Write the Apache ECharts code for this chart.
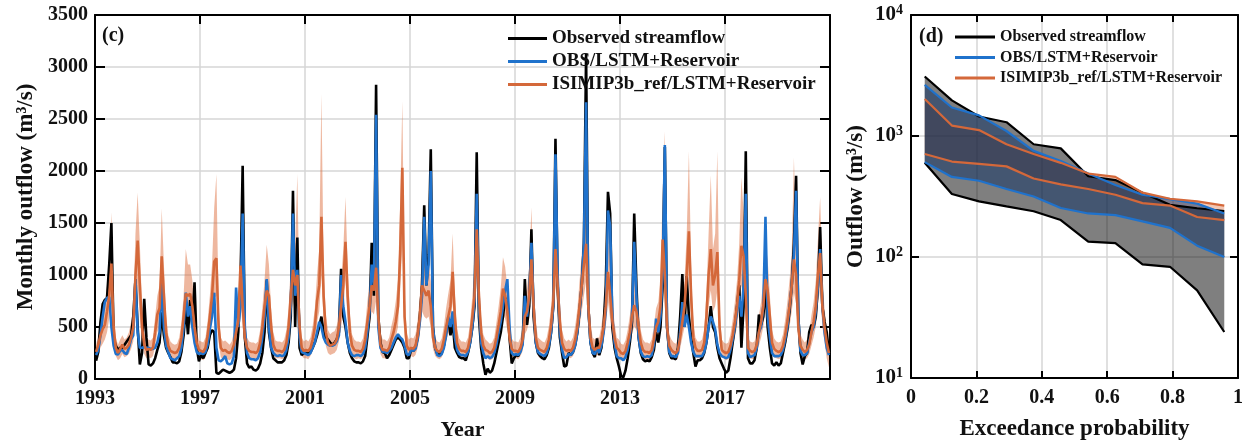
<!DOCTYPE html>
<html><head><meta charset="utf-8">
<script src="https://cdn.jsdelivr.net/npm/echarts@6/dist/echarts.min.js"></script>
<style>html,body{margin:0;padding:0;background:#fff}#c{width:1246px;height:446px}</style>
</head><body><div id="c"></div>
<script>
// ---------- DATA (panel c: monthly 1993-2020) ----------
const startYear = 1993;
const yearTickLabels = ['1993','1997','2001','2005','2009','2013','2017'];
const seriesNames = ['Observed streamflow','OBS/LSTM+Reservoir','ISIMIP3b_ref/LSTM+Reservoir'];

const observed = [
175,260,550,720,760,780,1100,1500,400,320,280,300,
300,330,360,390,420,600,960,500,140,250,770,400,
140,130,150,200,280,350,640,420,300,250,210,160,
160,150,170,260,420,700,430,760,500,930,300,170,
230,200,250,300,420,470,450,60,50,70,90,80,
70,60,70,90,200,450,900,2050,400,150,110,120,
90,80,100,150,250,450,950,450,300,200,180,160,
160,160,180,230,350,600,1810,500,1360,300,230,250,
250,240,260,300,350,420,500,600,450,400,380,350,
330,350,380,450,1060,600,500,350,250,200,170,160,
160,150,170,220,400,600,1310,800,2830,600,350,260,
250,200,230,280,330,380,400,380,350,300,200,200,
280,270,300,400,600,900,1670,900,1200,2210,500,300,
240,230,250,320,450,580,420,550,300,250,210,200,
200,180,250,350,500,700,2180,600,300,150,40,100,
60,80,150,250,350,450,600,780,750,400,150,200,
230,220,280,350,960,520,700,1440,600,350,250,220,
200,190,230,300,450,700,2310,900,400,250,120,130,
250,230,260,330,450,650,900,1300,3130,700,350,250,
210,390,230,300,500,900,1800,1590,500,300,200,120,
30,15,80,200,350,550,1590,900,400,250,190,170,
180,170,210,280,450,350,500,900,2230,500,250,200,
200,190,300,600,1010,500,990,600,400,250,120,180,
180,200,250,350,500,700,500,450,300,200,150,100,
60,80,200,350,500,700,900,300,700,2190,200,150,
150,180,300,620,520,600,900,500,300,150,130,160,
130,150,250,350,480,650,900,1300,1955,600,250,140,
220,250,450,520,500,600,900,1460,700,550,450,250
];

const obsLstm = [
230,280,420,600,740,780,790,500,320,240,235,270,
280,250,240,300,380,420,960,450,300,300,310,300,
300,290,290,300,350,450,930,500,320,260,200,190,
180,200,220,300,500,830,600,700,500,350,260,240,
250,240,260,330,480,600,830,300,180,170,190,220,
150,140,150,220,880,500,700,1590,500,250,200,190,
190,180,200,260,400,600,960,500,300,250,230,220,
230,220,230,280,400,700,1590,800,1050,400,260,250,
240,230,250,300,350,450,550,500,400,350,330,320,
320,330,360,420,1000,700,550,350,270,230,220,230,
230,220,240,300,450,650,1100,900,2540,500,300,260,
260,250,270,300,350,400,430,400,380,320,240,230,
280,270,290,380,550,800,1560,900,1100,2000,500,300,
230,220,240,300,420,600,500,650,400,280,240,230,
230,220,260,350,500,750,1780,700,350,250,200,220,
200,210,250,330,450,550,700,850,960,500,250,230,
240,230,260,330,800,600,800,1310,700,350,260,240,
230,220,250,320,450,700,2160,1000,450,280,200,210,
240,230,260,320,450,650,900,1300,2660,700,350,250,
240,300,250,320,450,650,1620,1470,600,350,220,200,
200,180,210,280,400,600,1320,800,400,260,220,210,
220,210,230,330,580,450,600,1000,2250,500,260,220,
220,210,250,450,740,500,620,500,350,260,220,220,
220,220,260,350,500,600,550,480,330,250,220,210,
200,210,280,380,500,650,800,600,900,1780,250,210,
220,230,300,450,500,700,1560,600,400,250,220,220,
220,230,280,380,500,700,900,1200,1810,600,270,230,
230,250,350,450,500,650,900,1250,700,450,300,230
];

const isimip = [
260,330,420,480,520,650,800,1110,500,300,250,290,
330,290,300,330,400,500,1000,1330,900,500,330,280,
290,280,300,450,620,680,1180,800,450,320,270,260,
250,260,300,400,600,820,800,820,700,500,350,280,
270,260,300,420,600,800,1130,1160,500,300,270,280,
260,250,270,330,450,560,1090,700,400,300,270,260,
260,250,270,350,500,700,850,800,500,330,280,270,
270,260,280,350,500,800,1050,900,1000,500,300,270,
280,270,300,380,500,750,900,1560,800,450,350,320,
330,340,380,500,700,900,1320,800,450,320,280,270,
270,260,290,380,550,700,900,850,1070,600,330,280,
280,270,300,380,450,550,700,1200,2030,600,320,280,
300,290,320,420,600,900,850,800,850,700,400,300,
270,260,290,380,500,600,700,1030,600,350,290,270,
270,260,300,400,600,800,1440,800,450,320,280,270,
250,260,300,400,520,650,870,800,650,400,290,270,
270,260,300,380,600,650,800,1150,700,400,300,280,
270,260,300,380,520,750,1250,900,550,350,290,270,
280,270,300,380,500,700,900,1100,1300,700,400,300,
280,300,300,380,500,700,1030,800,560,400,300,280,
250,240,270,350,450,600,710,650,500,350,280,260,
260,250,280,380,500,550,700,1340,1000,500,320,280,
260,250,280,400,550,700,1000,1420,800,400,300,270,
270,280,350,600,1000,1250,900,1000,1220,500,280,260,
250,260,320,420,550,700,950,1280,1180,800,300,270,
260,270,330,450,550,700,960,850,600,350,290,270,
260,270,320,420,550,700,900,1150,1000,500,320,280,
260,280,330,450,550,700,1000,1210,700,500,350,250
];

const isimipLow = [
190,240,300,340,380,450,580,740,350,220,180,200,
240,210,220,240,290,360,700,900,600,350,240,200,
210,200,220,320,450,500,850,560,320,230,190,190,
180,190,220,290,430,600,580,600,500,360,250,200,
190,180,210,300,420,580,780,800,350,210,190,200,
190,180,200,240,330,400,750,500,280,210,190,190,
190,180,200,250,360,500,600,560,350,240,200,200,
200,190,200,250,360,580,750,650,700,360,220,200,
200,190,220,270,360,540,650,1000,560,320,250,230,
240,250,280,360,500,650,950,560,320,230,200,190,
200,190,210,270,400,500,650,620,750,430,240,200,
200,190,220,270,320,400,500,850,1300,420,230,200,
220,210,230,300,430,650,600,580,600,500,290,220,
200,190,210,270,360,430,500,740,430,250,210,200,
200,190,220,290,430,580,1000,570,320,230,200,200,
180,190,220,290,380,470,630,580,470,290,210,200,
200,190,220,270,430,470,580,830,500,290,220,200,
200,190,220,270,380,540,900,650,400,250,210,200,
210,200,220,270,360,500,650,800,940,500,290,220,
210,230,220,270,360,500,740,580,400,290,220,210,
180,170,200,250,320,430,510,470,360,250,200,190,
190,180,200,270,360,400,500,950,700,360,230,200,
190,180,200,290,400,500,700,1000,560,290,210,200,
200,210,250,430,700,850,650,700,850,360,210,200,
180,190,230,300,400,500,680,900,820,560,220,200,
190,200,240,320,400,500,690,610,430,250,210,200,
190,200,230,300,400,500,650,830,720,360,230,200,
190,200,240,320,400,500,720,870,500,360,200,110
];

const isimipHigh = [
330,420,560,650,720,900,1100,1600,700,400,330,380,
420,380,400,450,550,700,1400,1790,1300,700,450,370,
380,370,400,600,800,900,1640,1100,620,420,360,340,
330,340,400,540,800,1250,1100,1100,950,680,460,370,
360,350,400,560,800,1100,1650,1970,700,400,360,370,
350,330,360,450,600,750,1350,950,550,400,360,350,
350,340,360,470,680,950,1290,1100,680,450,370,360,
360,350,380,470,680,1100,1500,1300,1970,700,400,360,
380,360,400,510,680,1000,1250,2740,1100,620,470,430,
450,460,510,670,950,1250,1750,1100,620,430,380,360,
360,350,390,510,740,950,1250,1150,1450,820,450,380,
380,360,400,510,600,750,950,1700,2670,850,440,380,
400,390,430,570,800,1250,1150,1100,1150,950,540,400,
360,350,390,510,680,820,950,1400,820,480,390,360,
360,350,400,540,800,1080,1900,1080,600,430,380,360,
340,350,400,540,700,880,1170,1080,880,540,390,360,
360,350,400,510,800,870,1080,1650,950,540,400,380,
360,350,400,510,700,1000,1680,1200,740,470,390,360,
380,360,400,510,670,940,1200,1480,1750,940,540,400,
380,400,400,510,680,950,1400,1080,760,540,400,380,
340,330,370,470,610,810,1030,880,680,470,380,350,
350,340,380,510,680,740,950,1800,2380,680,430,380,
350,340,380,540,740,950,1400,2190,1100,540,400,360,
360,380,470,820,1400,1960,1250,1400,2190,680,380,350,
340,350,430,570,740,950,1300,1940,1600,1080,400,360,
350,360,450,610,740,950,1300,1150,810,470,390,360,
350,360,430,570,740,950,1220,2130,1350,680,430,380,
350,380,450,610,740,950,1350,1750,950,680,480,350
];

// ---------- DATA (panel d: exceedance ranges) ----------
const exceedProb = [0.042,0.125,0.208,0.292,0.375,0.458,0.542,0.625,0.708,0.792,0.875,0.958];
const obsHigh  = [3100,1970,1450,1300,855,790,465,432,340,270,253,240];
const obsLow   = [600,332,288,262,239,202,134,130,87,83,53,24];
const lstmHigh = [2650,1720,1480,1100,755,620,489,394,327,301,276,229];
const lstmLow  = [608,459,427,365,316,254,229,222,197,174,124,100];
const isiHigh  = [2020,1220,1120,855,710,600,489,459,340,303,288,266];
const isiLow   = [710,615,589,561,445,398,365,327,279,266,214,202];

// ---------- CHART ----------
const FONT = 'Liberation Serif';
const TXT = '#111';
const BLACK = '#000000', BLUE = '#1f72cc', ORANGE = '#d4683a';
const monthX = i => (i + 0.5) / 12;
const monthXY = arr => arr.map((v, i) => [monthX(i), v]);
const probXY = arr => arr.map((v, i) => [exceedProb[i], v]);

const axLine = {show: true, onZero: false, lineStyle: {color: '#000', width: 2}};
const tick = len => ({show: true, inside: true, length: len, lineStyle: {color: '#000', width: 2}});
const grid = {show: true, lineStyle: {color: '#d6d6d6', width: 1.5}};
const lab = size => ({fontFamily: FONT, fontWeight: 'bold', fontSize: size, color: TXT});

// band polygon drawn through the axes' own scales (api.coord)
function bandSeries(xs, lo, hi, xAxisIndex, yAxisIndex, fill, z) {
  return {
    type: 'custom', xAxisIndex, yAxisIndex, silent: true, z, clip: true,
    data: [[xs[0], lo[0]]],
    renderItem: (params, api) => {
      const pts = [];
      for (let i = 0; i < xs.length; i++) pts.push(api.coord([xs[i], hi[i]]));
      for (let i = xs.length - 1; i >= 0; i--) pts.push(api.coord([xs[i], lo[i]]));
      return {type: 'polygon', shape: {points: pts}, style: {fill: fill, stroke: null}};
    }
  };
}
const monthXs = observed.map((v, i) => monthX(i));

const chart = echarts.init(document.getElementById('c'), null, {renderer: 'canvas'});

const option = {
  animation: false,
  backgroundColor: '#fff',
  grid: [
    {left: 95, right: 416, top: 15, bottom: 61},
    {left: 911, right: 8, top: 15, bottom: 61}
  ],
  xAxis: [
    {type: 'value', gridIndex: 0, min: 0, max: 28, interval: 4, position: 'bottom',
     axisLine: axLine, axisTick: tick(9), splitLine: grid,
     axisLabel: Object.assign(lab(20), {margin: 10, formatter: v => yearTickLabels[Math.round(v / 4)] || ''}),
     name: 'Year', nameLocation: 'middle', nameGap: 40, nameTextStyle: lab(22)},
    {type: 'value', gridIndex: 0, min: 0, max: 28, interval: 4, position: 'top',
     axisLine: axLine, axisTick: tick(9), splitLine: {show: false}, axisLabel: {show: false}},
    {type: 'value', gridIndex: 1, min: 0, max: 1, interval: 0.2, position: 'bottom',
     axisLine: axLine, axisTick: tick(7), splitLine: grid,
     axisLabel: Object.assign(lab(20), {margin: 10}),
     name: 'Exceedance probability', nameLocation: 'middle', nameGap: 40, nameTextStyle: lab(23)},
    {type: 'value', gridIndex: 1, min: 0, max: 1, interval: 0.2, position: 'top',
     axisLine: axLine, axisTick: tick(7), splitLine: {show: false}, axisLabel: {show: false}}
  ],
  yAxis: [
    {type: 'value', gridIndex: 0, min: 0, max: 3500, interval: 500, position: 'left',
     axisLine: axLine, axisTick: tick(10), splitLine: grid,
     axisLabel: Object.assign(lab(20), {margin: 7, formatter: v => String(v)}),
     name: 'Monthly outflow (m³/s)', nameLocation: 'middle', nameGap: 55, nameRotate: 90, nameTextStyle: lab(23)},
    {type: 'value', gridIndex: 0, min: 0, max: 3500, interval: 500, position: 'right',
     axisLine: axLine, axisTick: tick(10), splitLine: {show: false}, axisLabel: {show: false}},
    {type: 'log', gridIndex: 1, min: 10, max: 10000, logBase: 10, splitNumber: 3, position: 'left',
     axisLine: axLine, axisTick: tick(8), splitLine: grid, minorTick: {show: false},
     axisLabel: {margin: 8, formatter: v => '{b|10}{s|' + Math.round(Math.log10(v)) + '}',
       rich: {b: Object.assign(lab(21), {lineHeight: 24}),
              s: Object.assign(lab(14), {verticalAlign: 'top', lineHeight: 14})}},
     name: 'Outflow (m³/s)', nameLocation: 'middle', nameGap: 43, nameRotate: 90, nameTextStyle: lab(23)},
    {type: 'log', gridIndex: 1, min: 10, max: 10000, logBase: 10, splitNumber: 3, position: 'right',
     axisLine: axLine, axisTick: tick(8), splitLine: {show: false}, axisLabel: {show: false}}
  ],
  legend: [
    {data: seriesNames, orient: 'vertical', left: 508, top: 29, padding: 0, itemWidth: 39, itemHeight: 3, itemGap: 4,
     icon: 'rect', selectedMode: false, textStyle: lab(19)},
    {data: seriesNames, orient: 'vertical', left: 955, top: 29, padding: 0, itemWidth: 40, itemHeight: 3, itemGap: 4.5,
     icon: 'rect', selectedMode: false, textStyle: lab(16)}
  ],
  graphic: [
    {type: 'text', left: 102, top: 26, style: {text: '(c)', font: 'bold 20px "Liberation Serif"', fill: TXT}},
    {type: 'text', left: 919, top: 27, style: {text: '(d)', font: 'bold 20px "Liberation Serif"', fill: TXT}}
  ],
  series: [
    // ---- panel c ----
    bandSeries(monthXs, isimipLow, isimipHigh, 0, 0, 'rgba(220,105,55,0.48)', 1),
    {type: 'line', name: seriesNames[0], xAxisIndex: 0, yAxisIndex: 0, data: monthXY(observed), color: BLACK,
     symbol: 'none', showSymbol: false, lineStyle: {color: BLACK, width: 2.6}, z: 2},
    {type: 'line', name: seriesNames[1], xAxisIndex: 0, yAxisIndex: 0, data: monthXY(obsLstm), color: BLUE,
     symbol: 'none', showSymbol: false, lineStyle: {color: BLUE, width: 2.6}, z: 3},
    {type: 'line', name: seriesNames[2], xAxisIndex: 0, yAxisIndex: 0, data: monthXY(isimip), color: ORANGE,
     symbol: 'none', showSymbol: false, lineStyle: {color: ORANGE, width: 2.6}, z: 4},
    // ---- panel d : bands ----
    bandSeries(exceedProb, isiLow, isiHigh, 2, 2, 'rgba(217,83,25,0.33)', 1),
    bandSeries(exceedProb, obsLow, obsHigh, 2, 2, 'rgba(0,0,0,0.5)', 2),
    bandSeries(exceedProb, lstmLow, lstmHigh, 2, 2, 'rgba(10,45,100,0.5)', 3),
    // ---- panel d : lines ----
    {type: 'line', name: seriesNames[0], xAxisIndex: 2, yAxisIndex: 2, data: probXY(obsHigh), color: BLACK,
     symbol: 'none', lineStyle: {color: BLACK, width: 2.2}, z: 5},
    {type: 'line', name: seriesNames[0], xAxisIndex: 2, yAxisIndex: 2, data: probXY(obsLow), color: BLACK,
     symbol: 'none', lineStyle: {color: BLACK, width: 2.2}, z: 5},
    {type: 'line', name: seriesNames[1], xAxisIndex: 2, yAxisIndex: 2, data: probXY(lstmHigh), color: BLUE,
     symbol: 'none', lineStyle: {color: BLUE, width: 2.2}, z: 6},
    {type: 'line', name: seriesNames[1], xAxisIndex: 2, yAxisIndex: 2, data: probXY(lstmLow), color: BLUE,
     symbol: 'none', lineStyle: {color: BLUE, width: 2.2}, z: 6},
    {type: 'line', name: seriesNames[2], xAxisIndex: 2, yAxisIndex: 2, data: probXY(isiHigh), color: ORANGE,
     symbol: 'none', lineStyle: {color: ORANGE, width: 2.2}, z: 7},
    {type: 'line', name: seriesNames[2], xAxisIndex: 2, yAxisIndex: 2, data: probXY(isiLow), color: ORANGE,
     symbol: 'none', lineStyle: {color: ORANGE, width: 2.2}, z: 7}
  ]
};
chart.setOption(option);
</script>
</body></html>
